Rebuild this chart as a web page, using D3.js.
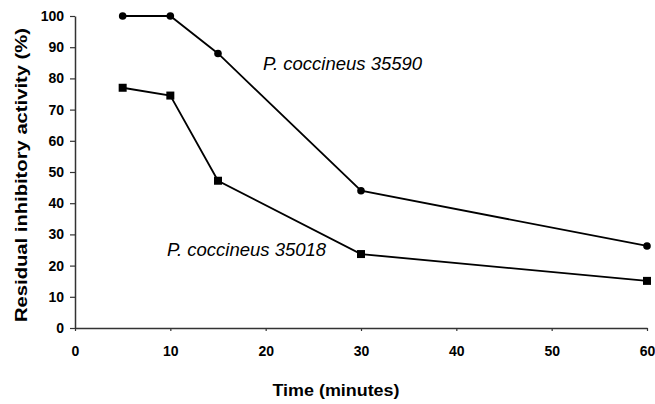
<!DOCTYPE html>
<html><head><meta charset="utf-8">
<script src="https://cdn.jsdelivr.net/npm/d3@7"></script>
<style>body{margin:0;background:#fff;font-family:Arial,"Liberation Sans",sans-serif;}</style>
</head><body>
<svg id="c" width="655" height="404"></svg>
<script>
const times = [5, 10, 15, 30, 60];
const strain35590 = [100, 100, 88, 44, 26.3];
const strain35018 = [77, 74.5, 47.2, 23.7, 15.1];
const xTicks = [0, 10, 20, 30, 40, 50, 60];
const yTicks = [0, 10, 20, 30, 40, 50, 60, 70, 80, 90, 100];
const labels = ["P. coccineus 35590", "P. coccineus 35018"];

const FONT = "Arial, 'Liberation Sans', sans-serif";
const svg = d3.select("#c");
const x = d3.scaleLinear().domain([0, 60]).range([75, 647]);
const y = d3.scaleLinear().domain([0, 100]).range([328, 16]);

const xAxis = svg.append("g").attr("transform", `translate(0,${y(0)})`)
  .call(d3.axisBottom(x).tickValues(xTicks).tickSize(3).tickSizeOuter(0).tickPadding(15));
const yAxis = svg.append("g").attr("transform", `translate(${x(0)},0)`)
  .call(d3.axisLeft(y).tickValues(yTicks).tickSize(5).tickSizeOuter(0).tickPadding(6));
[xAxis, yAxis].forEach(a => {
  a.select(".domain").attr("stroke", "#333").attr("stroke-width", 1.5);
  a.selectAll(".tick line").attr("stroke", "#333").attr("stroke-width", 1.2);
  a.selectAll("text").attr("font-family", FONT)
    .attr("font-size", 14).attr("font-weight", "bold").attr("fill", "#000");
});

const line = d3.line().x((d, i) => x(times[i])).y(d => y(d));
svg.append("path").datum(strain35590).attr("d", line)
  .attr("fill", "none").attr("stroke", "#000").attr("stroke-width", 1.8);
svg.append("path").datum(strain35018).attr("d", line)
  .attr("fill", "none").attr("stroke", "#000").attr("stroke-width", 1.8);

svg.selectAll("circle.m").data(strain35590).enter().append("circle")
  .attr("cx", (d, i) => x(times[i])).attr("cy", d => y(d)).attr("r", 3.8).attr("fill", "#000");
svg.selectAll("rect.m").data(strain35018).enter().append("rect")
  .attr("x", (d, i) => x(times[i]) - 4).attr("y", d => y(d) - 4)
  .attr("width", 8).attr("height", 8).attr("fill", "#000");

svg.append("text").attr("x", 263).attr("y", 70).attr("font-style", "italic")
  .attr("font-size", 18.5).attr("font-family", FONT).text(labels[0]);
svg.append("text").attr("x", 167).attr("y", 256).attr("font-style", "italic")
  .attr("font-size", 18.5).attr("font-family", FONT).text(labels[1]);

svg.append("text").attr("x", 336).attr("y", 396).attr("text-anchor", "middle")
  .attr("font-family", FONT).attr("font-size", 16).attr("font-weight", "bold")
  .attr("textLength", 127).attr("lengthAdjust", "spacingAndGlyphs").text("Time (minutes)");
svg.append("text").attr("transform", "translate(27,175) rotate(-90)").attr("text-anchor", "middle")
  .attr("font-family", FONT).attr("font-size", 16).attr("font-weight", "bold")
  .attr("textLength", 294).attr("lengthAdjust", "spacingAndGlyphs")
  .text("Residual inhibitory activity (%)");
</script>
</body></html>
